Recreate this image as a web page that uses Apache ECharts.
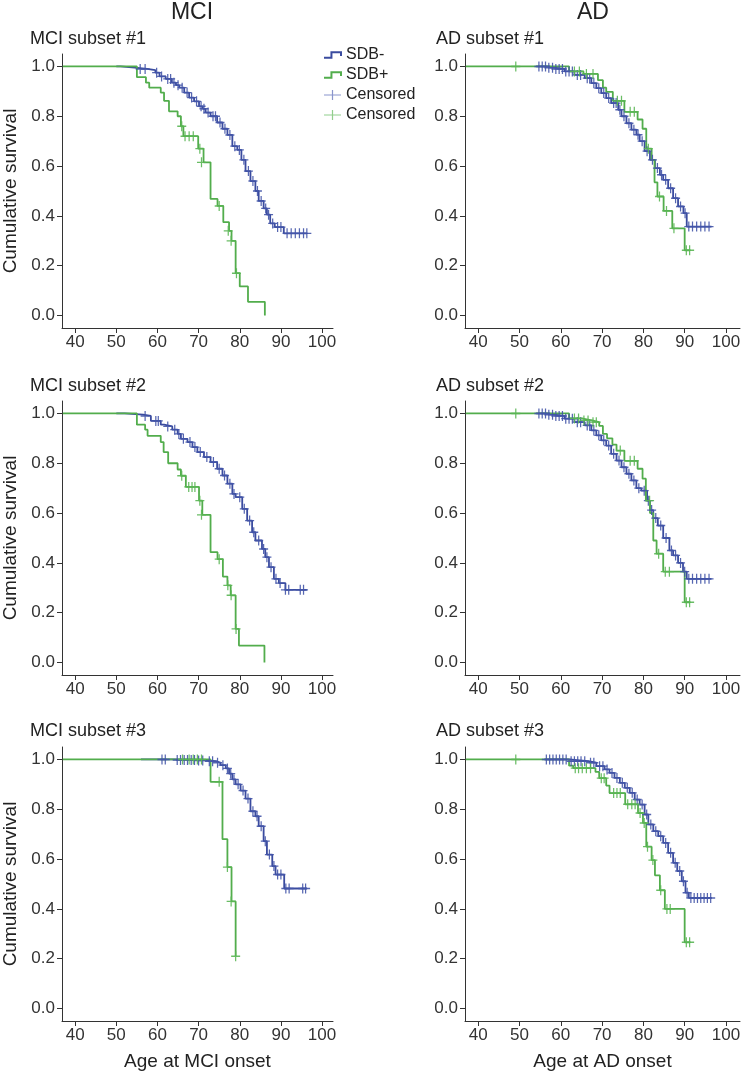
<!DOCTYPE html>
<html>
<head>
<meta charset="utf-8">
<script src="https://cdn.jsdelivr.net/npm/echarts@6/dist/echarts.min.js"></script>
<style>
html,body{margin:0;padding:0;background:#fff}
#chart{width:746px;height:1074px}
</style>
</head>
<body>
<div id="chart"></div>
<script>
// tick labels
var xTicks = [40, 50, 60, 70, 80, 90, 100];
var yTicks = [0, 0.2, 0.4, 0.6, 0.8, 1.0];

// MCI subset #1  (step points [age, survival], censored marks [age, survival])
var mci1Neg = [[50,1.0],[51,0.995],[54.5,0.99],[57.5,0.985],[59.5,0.975],[60.5,0.96],[62,0.95],[63.5,0.935],[64.5,0.925],[65.3,0.915],[66.5,0.895],[67.7,0.875],[68.9,0.86],[70.1,0.84],[71.0,0.83],[71.7,0.815],[72.9,0.80],[74.5,0.775],[75.8,0.75],[77.0,0.725],[78.2,0.68],[79.4,0.665],[80.4,0.625],[81.4,0.58],[82.6,0.54],[83.8,0.50],[84.6,0.46],[85.8,0.43],[86.6,0.405],[87.4,0.37],[88.5,0.355],[90.7,0.33],[96.3,0.33]];
var mci1NegCens = [[55.8,0.99],[57.0,0.99],[59.8,0.975],[61.0,0.96],[62.5,0.95],[63.2,0.95],[64.0,0.935],[65.0,0.925],[66.0,0.915],[67.2,0.895],[68.3,0.875],[69.5,0.86],[70.6,0.84],[71.3,0.83],[72.3,0.815],[73.5,0.80],[74.1,0.80],[75.2,0.775],[76.4,0.75],[77.6,0.725],[78.8,0.68],[79.9,0.665],[81.0,0.625],[82.1,0.58],[83.2,0.54],[84.3,0.50],[85.2,0.46],[86.3,0.43],[87.0,0.405],[88.0,0.37],[89.2,0.355],[90.0,0.355],[91.5,0.33],[92.5,0.33],[93.5,0.33],[94.5,0.33],[95.5,0.33],[96.3,0.33]];
var mci1Pos = [[37,1.0],[55.0,0.957],[57.2,0.935],[58.0,0.915],[60.8,0.895],[61.6,0.862],[62.8,0.82],[64.9,0.80],[65.7,0.76],[66.3,0.72],[69.9,0.67],[71.2,0.615],[72.9,0.468],[74.6,0.44],[76.0,0.375],[77.4,0.34],[78.0,0.30],[79.0,0.17],[80.0,0.117],[82.0,0.055],[86.1,0.0]];
var mci1PosCens = [[65.9,0.76],[66.7,0.72],[67.7,0.72],[68.7,0.72],[70.3,0.67],[70.7,0.615],[75.0,0.44],[77.2,0.34],[77.9,0.30],[79.2,0.17]];

// MCI subset #2
var mci2Neg = [[50,1.0],[52,0.995],[56.5,0.99],[58.4,0.97],[60.8,0.955],[61.6,0.948],[63.6,0.935],[64.9,0.918],[65.7,0.898],[67.3,0.885],[68.5,0.865],[69.7,0.845],[71.3,0.825],[72.9,0.805],[74.5,0.778],[75.8,0.751],[77.0,0.718],[78.2,0.677],[79.0,0.664],[80.6,0.617],[81.8,0.57],[83.0,0.523],[83.8,0.49],[85.4,0.456],[86.2,0.423],[87.1,0.383],[88.3,0.336],[89.5,0.319],[91.1,0.292],[96.3,0.292]];
var mci2NegCens = [[57.0,0.99],[59.6,0.97],[60.2,0.97],[62.5,0.948],[64.2,0.935],[65.2,0.918],[66.3,0.898],[67.9,0.885],[69.1,0.865],[70.4,0.845],[72.0,0.825],[73.6,0.805],[75.0,0.778],[76.3,0.751],[77.6,0.718],[78.6,0.677],[80.0,0.664],[81.1,0.617],[82.4,0.57],[83.4,0.523],[84.6,0.49],[85.8,0.456],[86.6,0.423],[87.6,0.383],[88.8,0.336],[89.8,0.319],[91.1,0.292],[91.9,0.292],[94.7,0.292],[95.5,0.292]];
var mci2Pos = [[37,1.0],[55.0,0.955],[57.0,0.935],[57.6,0.91],[60.8,0.885],[61.5,0.845],[62.6,0.80],[64.9,0.775],[65.7,0.75],[66.9,0.705],[70.1,0.65],[70.9,0.593],[72.9,0.443],[74.6,0.415],[75.9,0.345],[77.0,0.31],[77.8,0.27],[79.0,0.135],[79.8,0.068],[86.0,0.0]];
var mci2PosCens = [[65.9,0.75],[67.6,0.705],[68.4,0.705],[69.1,0.705],[70.3,0.65],[70.7,0.593],[75.0,0.415],[77.1,0.31],[77.9,0.27],[79.1,0.135]];

// MCI subset #3
var mci3Neg = [[56,1.0],[64,0.998],[70,0.996],[72.1,0.993],[74.1,0.987],[75.3,0.977],[76.6,0.964],[77.4,0.943],[78.2,0.92],[79.0,0.90],[80.2,0.875],[81.4,0.843],[82.6,0.792],[83.8,0.772],[84.6,0.732],[85.8,0.672],[86.6,0.618],[87.9,0.572],[88.7,0.538],[90.8,0.482],[96.3,0.482]];
var mci3NegCens = [[61.1,1.0],[61.9,1.0],[64.8,0.998],[65.6,0.998],[66.5,0.998],[67.3,0.998],[68.2,0.998],[69.0,0.998],[70.0,0.996],[71.0,0.996],[72.6,0.993],[73.4,0.993],[74.6,0.987],[75.9,0.977],[77.0,0.964],[77.8,0.943],[78.6,0.92],[79.6,0.90],[80.8,0.875],[82.0,0.843],[83.2,0.792],[84.2,0.772],[85.2,0.732],[86.2,0.672],[87.2,0.618],[88.3,0.572],[89.2,0.538],[90.0,0.538],[91.2,0.482],[92.0,0.482],[95.3,0.482],[96.0,0.482]];
var mci3Pos = [[37,1.0],[72.9,0.91],[75.8,0.68],[77.0,0.568],[78.0,0.43],[79.0,0.21]];
var mci3PosCens = [[66.1,1.0],[67.7,1.0],[68.7,1.0],[69.7,1.0],[70.7,1.0],[75.0,0.91],[77.0,0.568],[77.9,0.43],[79.0,0.21]];

// AD subset #1
var ad1Neg = [[54,1.0],[57,0.995],[58.5,0.99],[60.9,0.98],[63.3,0.966],[65.8,0.953],[67.4,0.933],[68.6,0.913],[69.8,0.893],[71.0,0.873],[72.2,0.853],[73.9,0.826],[74.7,0.80],[75.9,0.772],[77.1,0.746],[78.3,0.726],[79.1,0.70],[80.3,0.66],[81.6,0.625],[82.8,0.592],[84.0,0.565],[84.8,0.545],[86.0,0.511],[87.2,0.471],[88.4,0.438],[89.7,0.411],[90.5,0.357],[96.5,0.357]];
var ad1NegCens = [[54.7,1.0],[55.5,1.0],[56.3,1.0],[57.1,0.995],[58.0,0.995],[58.8,0.99],[59.6,0.99],[60.4,0.99],[61.2,0.98],[62.0,0.98],[62.8,0.98],[64.0,0.966],[64.8,0.966],[66.4,0.953],[67.0,0.953],[68.0,0.933],[69.2,0.913],[70.4,0.893],[71.6,0.873],[72.8,0.853],[73.4,0.853],[74.3,0.826],[75.3,0.80],[76.5,0.772],[77.7,0.746],[78.7,0.726],[79.7,0.70],[80.9,0.66],[82.2,0.625],[83.4,0.592],[84.4,0.565],[85.4,0.545],[86.6,0.511],[87.8,0.471],[89.0,0.438],[90.1,0.411],[91.0,0.357],[91.9,0.357],[92.9,0.357],[93.9,0.357],[94.9,0.357],[95.9,0.357]];
var ad1Pos = [[37,1.0],[62.0,0.98],[65.5,0.97],[69.0,0.945],[70.2,0.915],[71.0,0.898],[72.6,0.862],[75.4,0.818],[78.6,0.787],[79.8,0.75],[80.7,0.67],[82.0,0.625],[82.7,0.535],[83.4,0.478],[84.9,0.42],[87.0,0.35],[90.0,0.262],[91.2,0.262]];
var ad1PosCens = [[49.1,1.0],[63.3,0.98],[64.5,0.98],[66.2,0.97],[67.8,0.97],[73.7,0.862],[74.7,0.862],[76.8,0.818],[77.8,0.818],[81.2,0.67],[83.9,0.478],[85.6,0.42],[87.4,0.35],[90.4,0.262],[91.2,0.262]];

// AD subset #2
var ad2Neg = [[54,1.0],[57,0.995],[58.5,0.99],[60.9,0.979],[63.3,0.965],[65.8,0.952],[67.4,0.932],[68.6,0.912],[69.8,0.892],[71.0,0.871],[72.2,0.838],[73.5,0.811],[74.7,0.784],[75.9,0.758],[77.1,0.731],[78.3,0.70],[79.5,0.69],[80.9,0.65],[81.6,0.612],[82.4,0.58],[83.5,0.55],[84.8,0.50],[86.3,0.45],[87.2,0.43],[88.4,0.40],[89.6,0.365],[90.5,0.336],[96.5,0.336]];
var ad2NegCens = [[54.7,1.0],[55.5,1.0],[56.3,1.0],[57.1,0.995],[58.0,0.995],[58.8,0.99],[59.6,0.99],[60.4,0.99],[61.2,0.979],[62.0,0.979],[62.8,0.979],[64.0,0.965],[64.8,0.965],[66.4,0.952],[67.0,0.952],[68.0,0.932],[69.2,0.912],[70.4,0.892],[71.6,0.871],[72.8,0.838],[74.1,0.811],[75.3,0.784],[76.5,0.758],[77.7,0.731],[78.9,0.70],[80.2,0.69],[81.2,0.65],[82.0,0.612],[83.0,0.58],[84.2,0.55],[85.5,0.50],[86.8,0.45],[87.8,0.43],[89.0,0.40],[90.0,0.365],[91.0,0.336],[91.9,0.336],[92.9,0.336],[93.9,0.336],[94.9,0.336],[95.9,0.336]];
var ad2Pos = [[37,1.0],[62.0,0.98],[65.0,0.972],[67.5,0.965],[69.3,0.95],[70.2,0.918],[71.2,0.90],[72.5,0.875],[73.5,0.851],[75.4,0.81],[78.6,0.778],[79.8,0.738],[80.6,0.65],[81.6,0.60],[82.4,0.49],[83.2,0.437],[84.8,0.365],[90.0,0.242],[91.2,0.242]];
var ad2PosCens = [[49.1,1.0],[63.3,0.98],[64.3,0.98],[65.6,0.972],[66.6,0.972],[67.8,0.965],[68.6,0.965],[74.4,0.851],[76.8,0.81],[77.8,0.81],[81.5,0.65],[83.7,0.437],[85.3,0.365],[86.3,0.365],[90.4,0.242],[91.2,0.242]];

// AD subset #3
var ad3Neg = [[56.0,1.0],[62.0,0.993],[66.6,0.987],[68.6,0.973],[70.6,0.96],[71.8,0.946],[73.0,0.926],[74.3,0.906],[75.5,0.886],[76.7,0.866],[77.9,0.839],[79.1,0.819],[80.3,0.779],[81.2,0.739],[82.4,0.712],[83.6,0.692],[84.8,0.665],[86.0,0.625],[87.2,0.585],[88.2,0.552],[89.3,0.511],[90.2,0.465],[91.0,0.444],[96.5,0.444]];
var ad3NegCens = [[56.5,1.0],[57.3,1.0],[58.1,1.0],[58.9,1.0],[59.7,1.0],[60.5,1.0],[61.3,1.0],[62.5,0.993],[63.3,0.993],[64.1,0.993],[64.9,0.993],[65.8,0.993],[67.2,0.987],[68.0,0.987],[69.4,0.973],[70.2,0.973],[71.2,0.96],[72.4,0.946],[73.6,0.926],[74.9,0.906],[76.1,0.886],[77.3,0.866],[78.5,0.839],[79.7,0.819],[80.8,0.779],[81.8,0.739],[83.0,0.712],[84.2,0.692],[85.4,0.665],[86.6,0.625],[87.7,0.585],[88.8,0.552],[89.7,0.511],[90.6,0.465],[91.5,0.444],[92.3,0.444],[93.1,0.444],[93.9,0.444],[94.7,0.444],[95.5,0.444],[96.3,0.444]];
var ad3Pos = [[37,1.0],[62.0,0.975],[63.0,0.965],[68.4,0.95],[69.3,0.925],[71.0,0.895],[71.8,0.865],[75.6,0.82],[78.7,0.785],[79.9,0.745],[80.7,0.65],[82.0,0.596],[82.8,0.535],[84.0,0.475],[85.2,0.40],[90.0,0.266],[91.2,0.266]];
var ad3PosCens = [[49.1,1.0],[63.5,0.965],[64.3,0.965],[65.2,0.965],[66.2,0.965],[67.2,0.965],[69.8,0.925],[70.5,0.925],[72.8,0.865],[73.6,0.865],[74.4,0.865],[76.2,0.82],[77.2,0.82],[78.0,0.82],[79.2,0.785],[80.2,0.745],[81.0,0.65],[82.3,0.596],[84.2,0.475],[85.7,0.40],[86.5,0.40],[90.4,0.266],[91.2,0.266]];

var FONT = '"Liberation Sans", Arial, Helvetica, sans-serif';
var BLUE = '#3a4b9f', GREEN = '#52ad4c';
var BLUE_C = '#4455a8', GREEN_C = '#5ab654';
var PLUS = 'path://M0,5L10,5M5,0L5,10';
var STEP_ICON = 'path://M0,5L7,5L7,0L16,0L16,3.5';
var CENS_ICON = 'path://M0,5L17,5M8.5,0L8.5,10';

var panels = [
  {row:0, col:0, title:'MCI subset #1', neg:mci1Neg, pos:mci1Pos, negC:mci1NegCens, posC:mci1PosCens},
  {row:0, col:1, title:'AD subset #1',  neg:ad1Neg,  pos:ad1Pos,  negC:ad1NegCens,  posC:ad1PosCens},
  {row:1, col:0, title:'MCI subset #2', neg:mci2Neg, pos:mci2Pos, negC:mci2NegCens, posC:mci2PosCens},
  {row:1, col:1, title:'AD subset #2',  neg:ad2Neg,  pos:ad2Pos,  negC:ad2NegCens,  posC:ad2PosCens},
  {row:2, col:0, title:'MCI subset #3', neg:mci3Neg, pos:mci3Pos, negC:mci3NegCens, posC:mci3PosCens},
  {row:2, col:1, title:'AD subset #3',  neg:ad3Neg,  pos:ad3Pos,  negC:ad3NegCens,  posC:ad3PosCens}
];

var gridLeft = [61, 465], gridWidth = [272, 275];
var gridTop = [54, 401, 747], gridH = 274;
var xMax = [102.66, 103.4];
var subTitleX = [30, 436], subTitleY = [39, 386, 731];
var axisColor = '#333';

var grids = [], xAxes = [], yAxes = [], series = [];
var graphics = [
  {type:'text', x:192, y:13, style:{text:'MCI', font:'23px ' + FONT, fill:'#222', align:'center', verticalAlign:'middle', textAlign:'center', textVerticalAlign:'middle'}},
  {type:'text', x:593, y:13, style:{text:'AD', font:'23px ' + FONT, fill:'#222', align:'center', verticalAlign:'middle', textAlign:'center', textVerticalAlign:'middle'}}
];

panels.forEach(function(p, i){
  grids.push({left:gridLeft[p.col], top:gridTop[p.row], width:gridWidth[p.col], height:gridH});
  graphics.push({type:'text', x:subTitleX[p.col], y:subTitleY[p.row],
    style:{text:p.title, font:'18px ' + FONT, fill:'#222', align:'left', verticalAlign:'middle', textAlign:'left', textVerticalAlign:'middle'}});
  xAxes.push({
    gridIndex:i, type:'value', min:36.8, max:xMax[p.col],
    name: p.row === 2 ? (p.col === 0 ? 'Age at MCI onset' : 'Age at AD onset') : '',
    nameLocation:'middle', nameGap:31,
    nameTextStyle:{fontSize:19, color:'#222', fontFamily:FONT},
    axisLine:{onZero:false, lineStyle:{color:axisColor, width:1}},
    axisTick:{customValues:xTicks, length:5, lineStyle:{color:axisColor}},
    axisLabel:{customValues:xTicks, margin:6, fontSize:17, color:'#333', fontFamily:FONT},
    splitLine:{show:false}
  });
  yAxes.push({
    gridIndex:i, type:'value', min:-0.05, max:1.05,
    name: p.col === 0 ? 'Cumulative survival' : '',
    nameLocation:'middle', nameGap:42,
    nameTextStyle:{fontSize:19, color:'#222', fontFamily:FONT},
    axisLine:{show:true, onZero:false, lineStyle:{color:axisColor, width:1}},
    axisTick:{show:true, customValues:yTicks, length:5, lineStyle:{color:axisColor}},
    axisLabel:{customValues:yTicks, margin:7, fontSize:17, color:'#333', fontFamily:FONT,
      formatter:function(v){ return Number(v).toFixed(1); }},
    splitLine:{show:false}
  });
  series.push({
    type:'line', name:'SDB-', xAxisIndex:i, yAxisIndex:i, data:p.neg, step:'end',
    symbol:'none', showSymbol:false, silent:true, color:BLUE,
    lineStyle:{color:BLUE, width:1.8}, z:2
  });
  series.push({
    type:'line', name:'SDB+', xAxisIndex:i, yAxisIndex:i, data:p.pos, step:'end',
    symbol:'none', showSymbol:false, silent:true, color:GREEN,
    lineStyle:{color:GREEN, width:1.8}, z:3
  });
  series.push({
    type:'scatter', name:'Censored', xAxisIndex:i, yAxisIndex:i, data:p.negC,
    symbol:PLUS, symbolSize:[9, 10], silent:true,
    itemStyle:{color:'rgba(0,0,0,0)', borderColor:BLUE_C, borderWidth:1.3, opacity:0.9}, z:4
  });
  series.push({
    type:'scatter', name:'Censored ', xAxisIndex:i, yAxisIndex:i, data:p.posC,
    symbol:PLUS, symbolSize:[9, 10], silent:true,
    itemStyle:{color:'rgba(0,0,0,0)', borderColor:GREEN_C, borderWidth:1.3, opacity:0.9}, z:5
  });
});

var chart = echarts.init(document.getElementById('chart'), null, {renderer:'canvas'});
chart.setOption({
  animation:false,
  backgroundColor:'#fff',
  textStyle:{fontFamily:FONT},
  grid:grids,
  xAxis:xAxes,
  yAxis:yAxes,
  graphic:graphics,
  legend:{
    orient:'vertical', left:318, top:42, padding:5,
    itemWidth:17, itemHeight:12, itemGap:4, selectedMode:false,
    textStyle:{fontSize:16, color:'#222', fontFamily:FONT},
    data:[
      {name:'SDB-', icon:STEP_ICON, itemStyle:{color:'rgba(0,0,0,0)', borderColor:BLUE, borderWidth:2}},
      {name:'SDB+', icon:STEP_ICON, itemStyle:{color:'rgba(0,0,0,0)', borderColor:GREEN, borderWidth:2}},
      {name:'Censored', icon:CENS_ICON, itemStyle:{color:'rgba(0,0,0,0)', borderColor:'#7d89c6', borderWidth:1.2}},
      {name:'Censored ', icon:CENS_ICON, itemStyle:{color:'rgba(0,0,0,0)', borderColor:'#86c981', borderWidth:1.2}}
    ]
  },
  series:series
});
</script>
</body>
</html>
